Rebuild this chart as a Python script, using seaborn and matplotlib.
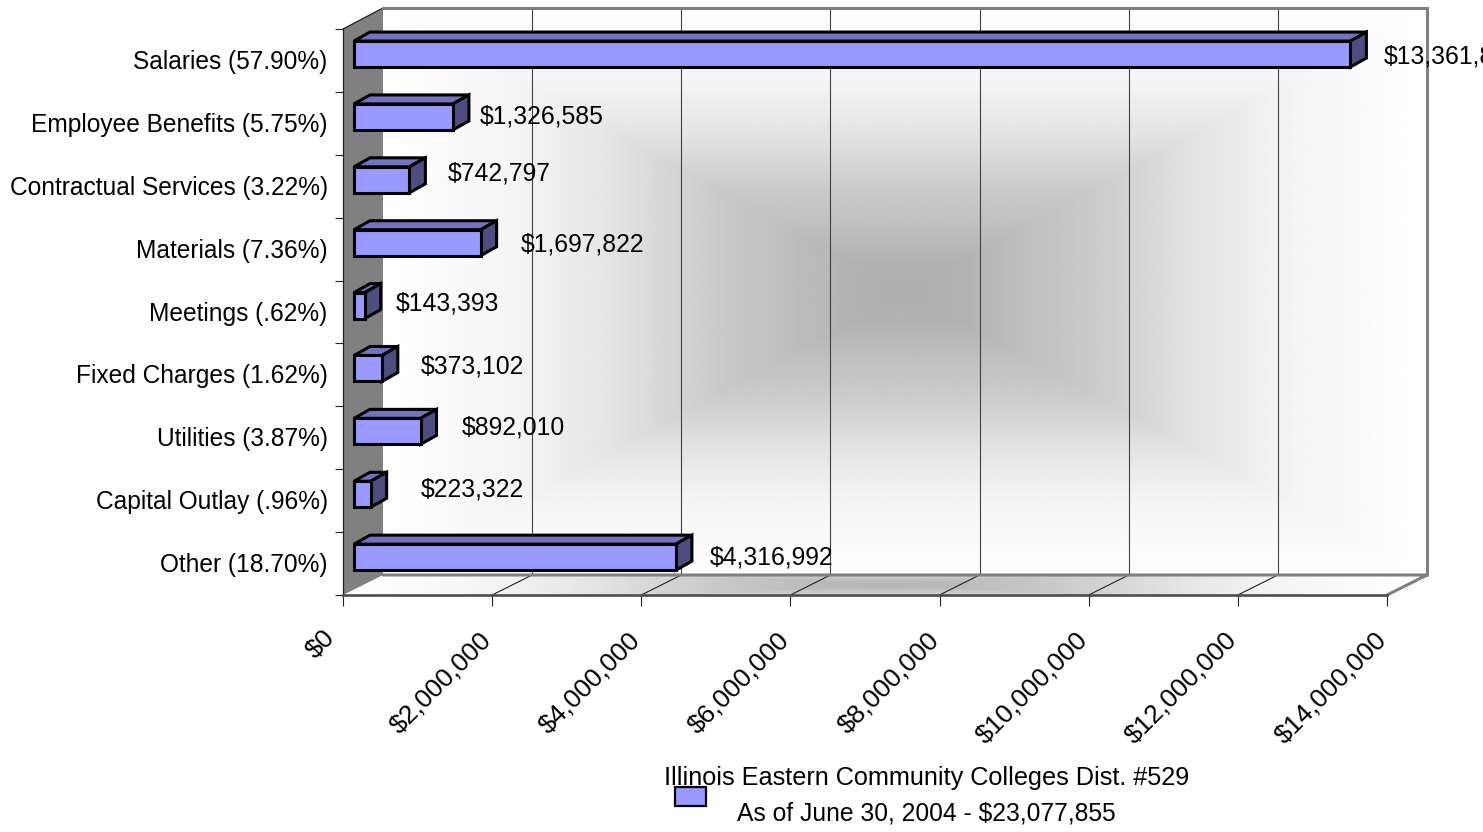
import numpy as np
import pandas as pd
import matplotlib
matplotlib.use("Agg")
import matplotlib.pyplot as plt
from matplotlib.patches import Polygon, Rectangle
from matplotlib.ticker import FuncFormatter
from matplotlib.transforms import Affine2D
import seaborn as sns

categories = ["Salaries (57.90%)", "Employee Benefits (5.75%)", "Contractual Services (3.22%)",
              "Materials (7.36%)", "Meetings (.62%)", "Fixed Charges (1.62%)",
              "Utilities (3.87%)", "Capital Outlay (.96%)", "Other (18.70%)"]
amounts = [13361832, 1326585, 742797, 1697822, 143393, 373102, 892010, 223322, 4316992]
legend_title = "Illinois Eastern Community Colleges Dist. #529"
legend_sub = "As of June 30, 2004 - $23,077,855"

# label nudges in pixels, measured from each bar's end and row centre
label_dx = [44, 38, 49, 51, 42, 50, 52, 61, 45]
label_dy = [4, 7, 13, 5, 8, 8, 10, 11, 6]

W, H = 1483, 832
AX_L, AX_R, AX_T, AX_B = 343, 1387, 29, 595
X_MAX = 14_000_000
FS = 17.65

FRONT, TOP, SIDE = "#9999FF", "#7373BF", "#4D4D80"
WALL_GREY = "#808080"
EDGE_LW = 2.2

sns.set_style("white")
plt.rcParams["font.family"] = ["Liberation Sans", "DejaVu Sans"]
plt.rcParams["text.color"] = "black"

fig = plt.figure(figsize=(W / 100, H / 100), dpi=100, facecolor="white")
ax = fig.add_axes([AX_L / W, 1 - AX_B / H, (AX_R - AX_L) / W, (AX_B - AX_T) / H])

df = pd.DataFrame({"category": categories, "amount": amounts})
sns.barplot(data=df, x="amount", y="category", orient="h", color=FRONT, saturation=1,
            width=26 / 62.9, edgecolor="black", linewidth=EDGE_LW, ax=ax, zorder=6)

n = len(categories)
ax.set_xlim(0, X_MAX)
ax.set_ylim(n - 0.5, -0.5)
px_x = X_MAX / (AX_R - AX_L)
px_y = n / (AX_B - AX_T)


def rect_gradient(nx, ny, stops_t, stops_v):
    """Grey levels falling off from the centre in rectangular rings."""
    u = np.abs(np.linspace(-1, 1, nx))
    v = np.abs(np.linspace(-1, 1, ny))
    t = np.maximum.outer(v, u)
    return np.interp(t, stops_t, stops_v)


wall_dx, wall_dy = 40 * px_x, 21 * px_y
wall_bottom = n - 0.5 - 20 * px_y
ring_t = [0, 0.1, 0.22, 0.34, 0.46, 0.58, 0.72, 0.84, 1]
ring_v = [174, 178, 190, 200, 215, 230, 243, 249, 255]
floor_v = [180, 184, 194, 204, 218, 232, 244, 250, 255]

# back wall
ax.imshow(rect_gradient(500, 300, ring_t, ring_v), cmap="gray", vmin=0, vmax=255, aspect="auto",
          extent=(wall_dx, X_MAX + wall_dx, wall_bottom, -0.5 - wall_dy),
          interpolation="bilinear", zorder=0, clip_on=False)

# floor, with rings reaching beyond its front and back edges
floor_xy = [(0, n - 0.5), (wall_dx, wall_bottom), (X_MAX + wall_dx, wall_bottom), (X_MAX, n - 0.5)]
floor_img = ax.imshow(rect_gradient(500, 60, ring_t, floor_v), cmap="gray",
                      vmin=0, vmax=255, aspect="auto",
                      extent=(0, X_MAX + wall_dx, n - 0.5 + 15 * px_y, wall_bottom - 15 * px_y),
                      interpolation="bilinear", zorder=0.5)
floor_img.set_clip_on(True)
floor_img.set_clip_path(Polygon(floor_xy, transform=ax.transData))
ax.set_xlim(0, X_MAX)
ax.set_ylim(n - 0.5, -0.5)

ticks = np.arange(0, X_MAX + 1, 2_000_000)

# gridlines across the back wall and floor
for tx in ticks[1:-1]:
    ax.plot([tx + wall_dx] * 2, [-0.5 - wall_dy, wall_bottom], color="#404040", lw=0.8,
            zorder=1, clip_on=False)
    ax.plot([tx, tx + wall_dx], [n - 0.5, wall_bottom], color="#222222", lw=0.8,
            zorder=1, clip_on=False)

# left side wall
ax.add_patch(Polygon([(0, -0.5), (wall_dx, -0.5 - wall_dy), (wall_dx, wall_bottom), (0, n - 0.5)],
                     facecolor=WALL_GREY, edgecolor="none", zorder=2, clip_on=False))
ax.plot([0, wall_dx], [-0.5, -0.5 - wall_dy], color="#222222", lw=0.9, zorder=3, clip_on=False)

# wall outlines
ax.plot([wall_dx, X_MAX + wall_dx, X_MAX + wall_dx], [-0.5 - wall_dy, -0.5 - wall_dy, wall_bottom],
        color=WALL_GREY, lw=2.2, zorder=3, clip_on=False, solid_joinstyle="miter")
ax.plot([wall_dx, X_MAX + wall_dx, X_MAX], [wall_bottom, wall_bottom, n - 0.5],
        color=WALL_GREY, lw=2.2, zorder=3, clip_on=False, solid_joinstyle="miter")

# shift the bars off the front plane and give them depth
bar_dx, bar_dy = 11 * px_x, -6.4 * px_y
depth_x, depth_y = 16 * px_x, 9 * px_y
for bar in ax.patches:
    if not isinstance(bar, Rectangle) or bar.get_width() <= 0:
        continue
    x0 = bar.get_x() + bar_dx
    y0 = bar.get_y() + bar_dy
    w, h = bar.get_width(), bar.get_height()
    bar.set_x(x0)
    bar.set_y(y0)
    bar.set_joinstyle("miter")
    top = Polygon([(x0, y0), (x0 + w, y0), (x0 + w + depth_x, y0 - depth_y), (x0 + depth_x, y0 - depth_y)],
                  facecolor=TOP, edgecolor="black", lw=EDGE_LW, zorder=5, clip_on=False, joinstyle="miter")
    side = Polygon([(x0 + w, y0), (x0 + w + depth_x, y0 - depth_y), (x0 + w + depth_x, y0 + h - depth_y),
                    (x0 + w, y0 + h)],
                   facecolor=SIDE, edgecolor="black", lw=EDGE_LW, zorder=5, clip_on=False, joinstyle="miter")
    ax.add_patch(top)
    ax.add_patch(side)

# value labels
for i, value in enumerate(amounts):
    ax.annotate(f"${value:,.0f}", xy=(value, i), xytext=(label_dx[i], label_dy[i]),
                textcoords="offset pixels", ha="left", va="center", fontsize=17.85, color="black",
                annotation_clip=False, zorder=8)

# axes
for name in ("top", "right"):
    ax.spines[name].set_visible(False)
ax.spines["left"].set_color("#222222")
ax.spines["left"].set_linewidth(0.9)
ax.spines["left"].set_zorder(4)
ax.spines["bottom"].set_color("#4d4d4d")
ax.spines["bottom"].set_linewidth(1.9)
ax.spines["bottom"].set_zorder(4)

ax.set_xlabel("")
ax.set_ylabel("")
ax.set_xticks(ticks)
ax.xaxis.set_major_formatter(FuncFormatter(lambda v, _: f"${v:,.0f}"))
ax.tick_params(axis="x", bottom=True, length=8, width=0.8, color="#222222", pad=17,
               labelsize=19, labelcolor="black")
plt.setp(ax.get_xticklabels(), rotation=45, ha="right", va="top", rotation_mode="anchor")
for k, label in enumerate(ax.get_xticklabels()):
    # the short first label sits further out along the diagonal than the long ones
    shift = (-20, 4) if k == 0 else (-13, 2)
    label.set_transform(label.get_transform() + Affine2D().translate(*shift))

ax.set_yticks(np.arange(n))
ax.set_yticklabels(categories)
ax.tick_params(axis="y", which="major", left=False, length=0, pad=11, labelsize=FS, labelcolor="black")
for label in ax.get_yticklabels():
    label.set_transform(label.get_transform() + Affine2D().translate(0, 1))
ax.set_yticks(np.arange(-0.5, n), minor=True)
ax.tick_params(axis="y", which="minor", left=True, length=6, width=0.8, color="#222222")

# legend block
fig.add_artist(Rectangle((674.5 / W, 1 - 806 / H), 31 / W, 19 / H, transform=fig.transFigure,
                         facecolor=FRONT, edgecolor="black", lw=1.6, zorder=1))
fig.text(926.5 / W, 1 - 778 / H, legend_title, ha="center", va="center",
         fontsize=18.15, color="black", zorder=2)
fig.text(926.5 / W, 1 - 813 / H, legend_sub, ha="center", va="center",
         fontsize=17.7, color="black", zorder=2)

fig.savefig("out.png", dpi=100)
